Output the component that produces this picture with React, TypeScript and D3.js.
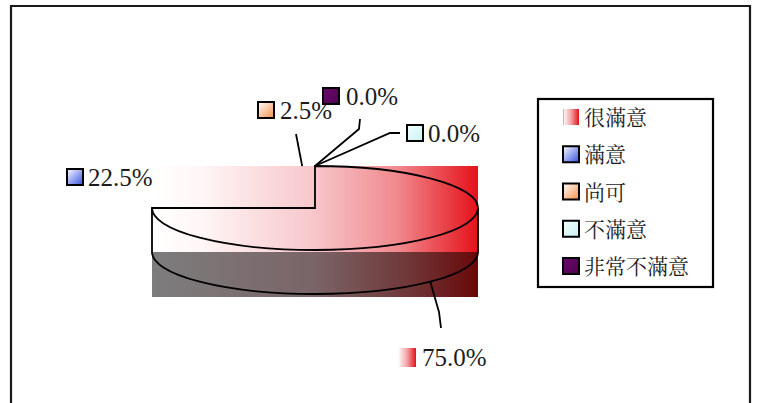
import React from "react";
import * as d3 from "d3";

// Survey answers and their shares (%)
const categories = ["很滿意", "滿意", "尚可", "不滿意", "非常不滿意"];
const shares = [75.0, 22.5, 2.5, 0.0, 0.0];
const valueLabels = ["75.0%", "22.5%", "2.5%", "0.0%", "0.0%"];

const W = 758;
const H = 403;

// 3-D pie geometry
const CX = 315;
const CY = 208;
const RX = 163;
const RY = 42;
const DEPTH = 44;

// Per-category marker fills
const markerFills = ["url(#gLegRed)", "url(#gBlue)", "url(#gOrange)", "url(#gCyan)", "url(#gPurple)"];

// Data-label placement: marker box, text position and leader polyline tail
const labelLayout = [
  { mx: 398, my: 348, mw: 18, mh: 19, border: false, tx: 422, ty: 366, leader: [[439, 312], [441, 328]], side: true },
  { mx: 67, my: 169, mw: 16, mh: 16, border: true, tx: 88, ty: 186, leader: null, side: false },
  { mx: 258, my: 102, mw: 16, mh: 16, border: true, tx: 280, ty: 119, leader: [[296, 134]], side: false },
  { mx: 407, my: 125, mw: 16, mh: 16, border: true, tx: 428, ty: 142, leader: [[390, 133], [400, 133]], side: false },
  { mx: 323, my: 88, mw: 16, mh: 16, border: true, tx: 346, ty: 105, leader: [[359, 129], [360, 119]], side: false },
];

const pt = (a: number, yOff = 0): [number, number] => [CX + RX * Math.sin(a), CY + yOff - RY * Math.cos(a)];

const serifStyle = { fontFamily: "Liberation Serif", fontSize: 25 };
const cjkStyle = { fontFamily: "Noto Serif CJK TC", fontSize: 21 };

export default function App() {
  const arcs = d3
    .pie<number>()
    .sort(null)
    .startAngle(0)
    .endAngle(2 * Math.PI)(shares);

  const main = arcs[0];
  const [sx, sy] = pt(main.startAngle);
  const [ex, ey] = pt(main.endAngle);
  const large = main.endAngle - main.startAngle > Math.PI ? 1 : 0;
  const topPath = `M${CX},${CY} L${sx},${sy} A${RX},${RY} 0 ${large} 1 ${ex},${ey} Z`;

  // front wall of the big slice (from 3 o'clock round the bottom to 9 o'clock)
  const a0 = Math.max(main.startAngle, Math.PI / 2);
  const a1 = Math.min(main.endAngle, (3 * Math.PI) / 2);
  const [wx0, wy0] = pt(a0);
  const [wx1, wy1] = pt(a1);
  const sidePath = `M${wx0},${wy0} L${wx0},${wy0 + DEPTH} A${RX},${RY} 0 0 1 ${wx1},${wy1 + DEPTH} L${wx1},${wy1}`;

  const xScale = d3.scaleLinear().domain([-1, 1]).range([CX - RX, CX + RX]);
  const boxLeft = xScale(-1);
  const boxW = xScale(1) - xScale(-1);

  const legendY = d3.scalePoint<string>().domain(categories).range([117, 266]);

  const ink = "#1c1c1c";

  return (
    <svg width={W} height={H} style={{ position: "absolute", left: 0, top: 0, background: "#fff" }}>
      <defs>
        <linearGradient id="gTop" x1="0" y1="0" x2="1" y2="0">
          <stop offset="0" stopColor="#ffffff" />
          <stop offset="0.15" stopColor="#fff6f6" />
          <stop offset="0.5" stopColor="#f7c6ca" />
          <stop offset="0.75" stopColor="#f08a8f" />
          <stop offset="1" stopColor="#e5111a" />
        </linearGradient>
        <linearGradient id="gSide" x1="0" y1="0" x2="1" y2="0">
          <stop offset="0" stopColor="#7d7d7d" />
          <stop offset="0.5" stopColor="#7a6467" />
          <stop offset="0.8" stopColor="#6f3536" />
          <stop offset="1" stopColor="#690808" />
        </linearGradient>
        <linearGradient id="gLegRed" x1="0" y1="0" x2="1" y2="0">
          <stop offset="0" stopColor="#ffffff" />
          <stop offset="0.5" stopColor="#f3a4a8" />
          <stop offset="1" stopColor="#e5111a" />
        </linearGradient>
        <linearGradient id="gBlue" x1="0" y1="0" x2="1" y2="1">
          <stop offset="0" stopColor="#ffffff" />
          <stop offset="1" stopColor="#3450e0" />
        </linearGradient>
        <linearGradient id="gOrange" x1="0" y1="0" x2="1" y2="1">
          <stop offset="0" stopColor="#ffffff" />
          <stop offset="1" stopColor="#f4904a" />
        </linearGradient>
        <linearGradient id="gCyan" x1="0" y1="0" x2="1" y2="1">
          <stop offset="0" stopColor="#f4ffff" />
          <stop offset="1" stopColor="#c8f0f0" />
        </linearGradient>
        <linearGradient id="gPurple" x1="0" y1="0" x2="1" y2="1">
          <stop offset="0" stopColor="#6a0a6e" />
          <stop offset="1" stopColor="#500050" />
        </linearGradient>
      </defs>

      {/* chart frame */}
      <path d={`M11,${H + 5} L11,6 L750,6 L750,${H + 5}`} fill="none" stroke="#1a1a1a" strokeWidth={2.2} />

      {/* pie fills */}
      <rect x={boxLeft} y={CY} width={boxW} height={RY + DEPTH + 3} fill="url(#gSide)" />
      <rect x={boxLeft} y={CY - RY} width={boxW} height={2 * RY + 2} fill="url(#gTop)" />

      {/* pie outlines */}
      <path d={sidePath} fill="none" stroke="#000" strokeWidth={1.8} />
      <path d={topPath} fill="none" stroke="#000" strokeWidth={1.8} strokeLinejoin="miter" />

      {/* data labels */}
      {arcs.map((a, i) => {
        const L = labelLayout[i];
        const mid = (a.startAngle + a.endAngle) / 2;
        const start = L.side ? pt(mid, DEPTH) : pt(mid);
        const pts = L.leader ? [start, ...L.leader] : null;
        return (
          <g key={categories[i]}>
            {pts && (
              <polyline
                points={pts.map((p) => p.join(",")).join(" ")}
                fill="none"
                stroke="#000"
                strokeWidth={1.8}
              />
            )}
            <rect
              x={L.mx}
              y={L.my}
              width={L.mw}
              height={L.mh}
              fill={markerFills[i]}
              stroke={L.border ? "#000" : "none"}
              strokeWidth={L.border ? 2 : 0}
            />
            <text x={L.tx} y={L.ty} style={serifStyle} fill={ink}>
              {valueLabels[i]}
            </text>
          </g>
        );
      })}

      {/* legend */}
      <rect x={538} y={99} width={175} height={188} fill="#fff" stroke="#000" strokeWidth={2.2} />
      {categories.map((c, i) => {
        const y = legendY(c) as number;
        const first = i === 0;
        return (
          <g key={c}>
            <rect
              x={563}
              y={y - 8}
              width={16}
              height={16}
              fill={markerFills[i]}
              stroke={first ? "none" : "#000"}
              strokeWidth={first ? 0 : 2}
            />
            {first && <line x1={563.5} y1={y - 8} x2={563.5} y2={y + 8} stroke="#bbb" strokeWidth={1} />}
            <text x={584} y={y + 8} style={cjkStyle} fill={ink}>
              {c}
            </text>
          </g>
        );
      })}
    </svg>
  );
}
